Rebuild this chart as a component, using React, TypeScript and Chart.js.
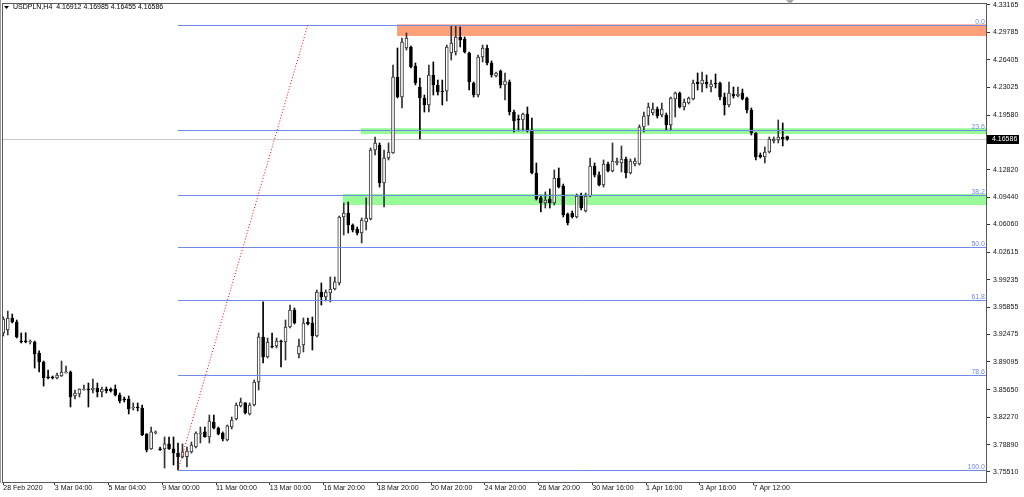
import React, { useEffect, useRef } from 'react';
import { Chart, registerables } from 'chart.js';

Chart.register(...registerables);

const titleText = 'USDPLN,H4  4.16912 4.16985 4.16455 4.16586';

const opens = [
  3.9267, 3.9304, 3.9452, 3.9403, 3.9168, 3.9166, 3.9156, 3.9156, 3.9020, 3.8909,
  3.8723, 3.8722, 3.8711, 3.8736, 3.8775, 3.8785, 3.8489, 3.8514, 3.8563, 3.8575,
  3.8563, 3.8588, 3.8538, 3.8575, 3.8573, 3.8575, 3.8501, 3.8452, 3.8452, 3.8341,
  3.8353, 3.8341, 3.8020, 3.7835, 3.8032, 3.7835, 3.7835, 3.7897, 3.7835, 3.7785,
  3.7736, 3.7740, 3.7798, 3.7859, 3.8020, 3.8045, 3.7983, 3.8168, 3.8094, 3.8032,
  3.7946, 3.8106, 3.8205, 3.8366, 3.8403, 3.8267, 3.8378, 3.8662, 3.9217, 3.8971,
  3.9106, 3.9106, 3.9168, 3.9156, 3.9341, 3.9551, 3.9008, 3.9119, 3.9403, 3.9390,
  3.9230, 3.9773, 3.9711, 3.9761, 3.9810, 3.9884, 4.0699, 4.0748, 4.0600, 4.0551,
  4.0501, 4.0637, 4.0674, 4.1526, 4.1588, 4.1119, 4.1427, 4.1489, 4.2427, 4.2180,
  4.2785, 4.2798, 4.2563, 4.2304, 4.2168, 4.2082, 4.2452, 4.2329, 4.2255, 4.2255,
  4.2724, 4.2736, 4.2921, 4.2897, 4.2724, 4.2353, 4.2205, 4.2674, 4.2785, 4.2600,
  4.2440, 4.2501, 4.2329, 4.2366, 4.1995, 4.1909, 4.1897, 4.1971, 4.1773, 4.1242,
  4.0934, 4.0872, 4.0921, 4.0872, 4.1180, 4.1082, 4.0736, 4.0748, 4.0699, 4.0958,
  4.0773, 4.0958, 4.1329, 4.1218, 4.1094, 4.1353, 4.1267, 4.1366, 4.1366, 4.1415,
  4.1242, 4.1353, 4.1353, 4.1810, 4.1946, 4.1983, 4.2032, 4.1958, 4.1958, 4.1835,
  4.2156, 4.2230, 4.2057, 4.2106, 4.2156, 4.2366, 4.2341, 4.2366, 4.2304, 4.2353,
  4.2353, 4.2180, 4.2082, 4.2218, 4.2193, 4.2230, 4.2168, 4.2020, 4.1736, 4.1464,
  4.1440, 4.1501, 4.1637, 4.1650, 4.1687, 4.16912,
];

const highs = [
  3.9464, 3.9538, 3.9501, 3.9427, 3.9267, 3.9270, 3.9180, 3.9168, 3.9045, 3.8921,
  3.8810, 3.8736, 3.8773, 3.8921, 3.8859, 3.8798, 3.8563, 3.8578, 3.8625, 3.8649,
  3.8699, 3.8649, 3.8600, 3.8600, 3.8588, 3.8625, 3.8526, 3.8477, 3.8489, 3.8403,
  3.8403, 3.8378, 3.8025, 3.8106, 3.8057, 3.7859, 3.7983, 3.7983, 3.7983, 3.7909,
  3.7897, 3.7859, 3.7921, 3.8045, 3.8106, 3.8106, 3.8254, 3.8254, 3.8106, 3.8045,
  3.8131, 3.8230, 3.8403, 3.8464, 3.8408, 3.8403, 3.8686, 3.9267, 3.9650, 3.9205,
  3.9267, 3.9205, 3.9180, 3.9427, 3.9612, 3.9575, 3.9193, 3.9452, 3.9452, 3.9464,
  3.9798, 3.9884, 3.9798, 3.9958, 3.9958, 4.0711, 4.0872, 4.0884, 4.0613, 4.0575,
  4.0687, 4.0934, 4.1551, 4.1687, 4.1613, 4.1526, 4.1613, 4.2576, 4.2785, 4.2909,
  4.2971, 4.2810, 4.2600, 4.2415, 4.2205, 4.2576, 4.2613, 4.2390, 4.2390, 4.2822,
  4.3057, 4.3057, 4.3045, 4.2921, 4.2736, 4.2366, 4.2699, 4.2822, 4.2822, 4.2625,
  4.2489, 4.2514, 4.2477, 4.2390, 4.2020, 4.1958, 4.1983, 4.2057, 4.1921, 4.1366,
  4.0971, 4.1008, 4.1045, 4.1279, 4.1304, 4.1106, 4.0748, 4.0773, 4.0983, 4.0995,
  4.0995, 4.1427, 4.1366, 4.1255, 4.1403, 4.1378, 4.1613, 4.1427, 4.1576, 4.1440,
  4.1415, 4.1427, 4.1835, 4.1995, 4.2106, 4.2106, 4.2057, 4.2106, 4.1983, 4.2180,
  4.2242, 4.2242, 4.2156, 4.2180, 4.2390, 4.2477, 4.2489, 4.2452, 4.2390, 4.2464,
  4.2366, 4.2230, 4.2366, 4.2304, 4.2304, 4.2279, 4.2180, 4.2045, 4.1740, 4.1489,
  4.1563, 4.1687, 4.1687, 4.1897, 4.1860, 4.16985,
];

const lows = [
  3.9230, 3.9242, 3.9390, 3.9205, 3.9143, 3.9145, 3.9131, 3.8834, 3.8785, 3.8612,
  3.8699, 3.8699, 3.8699, 3.8730, 3.8770, 3.8353, 3.8452, 3.8477, 3.8560, 3.8353,
  3.8526, 3.8477, 3.8477, 3.8526, 3.8538, 3.8489, 3.8403, 3.8415, 3.8267, 3.8316,
  3.8304, 3.8000, 3.7798, 3.7830, 3.8020, 3.7818, 3.7600, 3.7830, 3.7637, 3.7576,
  3.7723, 3.7612, 3.7785, 3.7847, 3.7909, 3.7980, 3.7909, 3.8082, 3.8008, 3.7934,
  3.7934, 3.8082, 3.8193, 3.8353, 3.8267, 3.8254, 3.8366, 3.8563, 3.8896, 3.8958,
  3.9082, 3.9082, 3.8847, 3.8933, 3.9329, 3.9378, 3.8958, 3.9032, 3.9366, 3.9057,
  3.9217, 3.9612, 3.9662, 3.9650, 3.9798, 3.9859, 4.0477, 4.0501, 4.0514, 4.0477,
  4.0378, 4.0538, 4.0662, 4.1464, 4.1069, 4.0822, 4.1403, 4.1485, 4.2168, 4.2045,
  4.2761, 4.2538, 4.2329, 4.1662, 4.1995, 4.1995, 4.2205, 4.2205, 4.2082, 4.2131,
  4.2637, 4.2699, 4.2798, 4.2724, 4.2267, 4.2180, 4.2180, 4.2613, 4.2576, 4.2427,
  4.2427, 4.2292, 4.2144, 4.1958, 4.1748, 4.1761, 4.1761, 4.1748, 4.1230, 4.0909,
  4.0761, 4.0810, 4.0810, 4.0847, 4.1057, 4.0699, 4.0600, 4.0687, 4.0687, 4.0785,
  4.0761, 4.0946, 4.1193, 4.1082, 4.1069, 4.1255, 4.1255, 4.1341, 4.1255, 4.1180,
  4.1230, 4.1329, 4.1341, 4.1748, 4.1835, 4.1958, 4.1921, 4.1934, 4.1773, 4.1773,
  4.1934, 4.2045, 4.2020, 4.2094, 4.2144, 4.2267, 4.2242, 4.2292, 4.2242, 4.2292,
  4.2144, 4.1958, 4.2057, 4.2168, 4.2180, 4.2144, 4.1983, 4.1711, 4.1403, 4.1427,
  4.1366, 4.1489, 4.1613, 4.1613, 4.1576, 4.16455,
];

const closes = [
  3.9440, 3.9452, 3.9403, 3.9217, 3.9156, 3.9158, 3.9166, 3.9008, 3.8909, 3.8711,
  3.8713, 3.8712, 3.8748, 3.8785, 3.8785, 3.8477, 3.8526, 3.8575, 3.8575, 3.8563,
  3.8588, 3.8538, 3.8575, 3.8551, 3.8553, 3.8501, 3.8427, 3.8440, 3.8329, 3.8353,
  3.8341, 3.8008, 3.7822, 3.8045, 3.8045, 3.7822, 3.7897, 3.7835, 3.7785, 3.7736,
  3.7798, 3.7810, 3.7884, 3.8032, 3.8032, 3.7983, 3.8180, 3.8094, 3.8020, 3.7958,
  3.8119, 3.8193, 3.8378, 3.8415, 3.8279, 3.8378, 3.8662, 3.9217, 3.8971, 3.9156,
  3.9094, 3.9168, 3.9156, 3.9341, 3.9551, 3.9390, 3.9106, 3.9390, 3.9378, 3.9230,
  3.9773, 3.9711, 3.9773, 3.9810, 3.9897, 4.0699, 4.0748, 4.0600, 4.0538, 4.0501,
  4.0662, 4.0687, 4.1526, 4.1613, 4.1119, 4.1427, 4.1501, 4.2427, 4.2180, 4.2860,
  4.2909, 4.2551, 4.2353, 4.2168, 4.2082, 4.2452, 4.2329, 4.2242, 4.2242, 4.2798,
  4.2847, 4.2921, 4.2884, 4.2736, 4.2366, 4.2205, 4.2674, 4.2785, 4.2600, 4.2452,
  4.2477, 4.2329, 4.2378, 4.1995, 4.1884, 4.1897, 4.1971, 4.1773, 4.1242, 4.0921,
  4.0872, 4.0909, 4.0872, 4.1180, 4.1069, 4.0724, 4.0625, 4.0699, 4.0958, 4.0810,
  4.0958, 4.1329, 4.1218, 4.1094, 4.1353, 4.1267, 4.1390, 4.1390, 4.1415, 4.1242,
  4.1390, 4.1390, 4.1810, 4.1946, 4.2057, 4.2032, 4.1946, 4.2032, 4.1835, 4.2168,
  4.2230, 4.2057, 4.2119, 4.2168, 4.2353, 4.2341, 4.2390, 4.2341, 4.2341, 4.2341,
  4.2180, 4.2082, 4.2230, 4.2193, 4.2218, 4.2156, 4.2020, 4.1736, 4.1440, 4.1440,
  4.1501, 4.1662, 4.1662, 4.1687, 4.1662, 4.16586,
];

const xLabelIndex = [0, 11.5, 23.5, 35.5, 47.5, 59.5, 71.5, 83.5, 95.5, 107.5, 119.5, 131.5, 143.5, 155.5, 167.5];
const xLabels = [
  '28 Feb 2020', '3 Mar 04:00', '5 Mar 04:00', '9 Mar 00:00', '11 Mar 00:00',
  '13 Mar 00:00', '16 Mar 20:00', '18 Mar 20:00', '20 Mar 20:00', '24 Mar 20:00',
  '26 Mar 20:00', '30 Mar 16:00', '1 Apr 16:00', '3 Apr 16:00', '7 Apr 12:00',
];

const yTickValues = [
  4.33165, 4.29785, 4.26405, 4.23025, 4.1958, 4.162, 4.1282, 4.0944, 4.0606,
  4.02615, 3.99235, 3.95855, 3.92475, 3.89095, 3.8565, 3.8227, 3.7889, 3.7551,
];

const fibLevels = [0, 23.6, 38.2, 50, 61.8, 78.6, 100];
const fibLabels = ['0.0', '23.6', '38.2', '50.0', '61.8', '78.6', '100.0'];
const fibLowIndex = 39;
const fibLowPrice = 3.7576;
const fibHighIndex = 68;
const fibHighPrice = 4.3074;

const zoneStartIndex = [87.9, 79.8, 75.8];
const zoneHigh = [4.3078, 4.1795, 4.0983];
const zoneLow = [4.2934, 4.1724, 4.0847];
const zoneColors = ['#ffa07a', '#98fb98', '#98fb98'];

const FONT = '"Liberation Sans", Arial, sans-serif';
const fibColor = '#6f8be6';

export default function App() {
  const ref = useRef<HTMLCanvasElement | null>(null);

  useEffect(() => {
    document.body.style.margin = '0';
    const canvas = ref.current;
    if (!canvas) return;
    const idx = opens.map((_, i) => i);
    const isBull = idx.map((i) => closes[i] >= opens[i]);
    const currentPrice = closes[closes.length - 1];

    const overlay = {
      id: 'mtOverlay',
      beforeDatasetsDraw(chart: any) {
        const { ctx, chartArea: a, scales } = chart;
        const x = scales.x;
        const y = scales.y;
        ctx.save();
        ctx.beginPath();
        ctx.rect(a.left, a.top, a.right - a.left, a.bottom - a.top);
        ctx.clip();
        zoneStartIndex.forEach((s, k) => {
          const x0 = x.getPixelForValue(s);
          const y0 = y.getPixelForValue(zoneHigh[k]);
          const y1 = y.getPixelForValue(zoneLow[k]);
          ctx.fillStyle = zoneColors[k];
          ctx.fillRect(x0, y0, a.right - x0, y1 - y0);
        });
        const cy = Math.round(y.getPixelForValue(currentPrice)) + 0.5;
        ctx.lineWidth = 1;
        ctx.strokeStyle = '#c8c8c8';
        ctx.beginPath();
        ctx.moveTo(a.left, cy);
        ctx.lineTo(a.right, cy);
        ctx.stroke();
        ctx.restore();
      },
      afterDatasetsDraw(chart: any) {
        const { ctx, chartArea: a, scales } = chart;
        const x = scales.x;
        const y = scales.y;
        ctx.save();
        ctx.beginPath();
        ctx.rect(a.left, a.top, a.right - a.left, a.bottom - a.top);
        ctx.clip();
        ctx.globalAlpha = 1;
        ctx.lineWidth = 1;
        ctx.setLineDash([]);
        const fx = Math.round(x.getPixelForValue(fibLowIndex));
        ctx.font = '7px ' + FONT;
        ctx.textAlign = 'right';
        ctx.textBaseline = 'bottom';
        for (let k = 0; k < fibLevels.length; k++) {
          const p = fibHighPrice - (fibLevels[k] / 100) * (fibHighPrice - fibLowPrice);
          const py = Math.round(y.getPixelForValue(p)) + 0.5;
          ctx.beginPath();
          ctx.moveTo(fx, py);
          ctx.lineTo(a.right, py);
          ctx.strokeStyle = fibColor;
          ctx.stroke();
          ctx.fillStyle = fibColor;
          ctx.fillText(fibLabels[k], a.right - 2, py);
        }
        ctx.strokeStyle = '#ff0000';
        ctx.setLineDash([1, 2]);
        ctx.beginPath();
        ctx.moveTo(x.getPixelForValue(fibLowIndex), y.getPixelForValue(fibLowPrice));
        ctx.lineTo(x.getPixelForValue(fibHighIndex), y.getPixelForValue(fibHighPrice));
        ctx.stroke();
        ctx.setLineDash([]);
        ctx.restore();
      },
      afterDraw(chart: any) {
        const { ctx, chartArea: a, scales } = chart;
        const y = scales.y;
        ctx.save();
        ctx.strokeStyle = '#5a5a5a';
        ctx.lineWidth = 1;
        ctx.strokeRect(a.left + 0.5, a.top + 0.5, a.right - a.left - 1, a.bottom - a.top);
        ctx.strokeStyle = '#9a9a9a';
        ctx.beginPath();
        ctx.moveTo(0.5, 0);
        ctx.lineTo(0.5, a.bottom + 1);
        ctx.stroke();
        // title
        ctx.fillStyle = '#000';
        ctx.beginPath();
        ctx.moveTo(a.left + 2, a.top + 3);
        ctx.lineTo(a.left + 7, a.top + 3);
        ctx.lineTo(a.left + 4.5, a.top + 6);
        ctx.closePath();
        ctx.fill();
        ctx.font = '7px ' + FONT;
        ctx.textAlign = 'left';
        ctx.textBaseline = 'middle';
        ctx.fillText(titleText, a.left + 11, a.top + 4.5);
        // current price box
        const cy = Math.round(y.getPixelForValue(currentPrice)) + 0.5;
        ctx.fillStyle = '#000';
        ctx.fillRect(a.right, cy - 4.5, 32, 9);
        ctx.fillStyle = '#fff';
        ctx.textBaseline = 'middle';
        ctx.fillText(currentPrice.toFixed(5), a.right + 5, cy);
        // chart shift marker
        ctx.fillStyle = '#a8a8a8';
        ctx.beginPath();
        ctx.moveTo(786, 0);
        ctx.lineTo(794, 0);
        ctx.lineTo(790, 4);
        ctx.closePath();
        ctx.fill();
        ctx.restore();
      },
    };

    const chart = new Chart(canvas, {
      type: 'bar',
      data: {
        datasets: [
          {
            label: 'wicks',
            data: idx.map((i) => ({ x: i, y: [lows[i], highs[i]] })) as any,
            backgroundColor: idx.map((i) => (isBull[i] ? '#333' : '#000')),
            barThickness: 1,
            grouped: false,
            order: 2,
            minBarLength: 1,
          } as any,
          {
            label: 'bodies',
            data: idx.map((i) => ({ x: i, y: [opens[i], closes[i]] })) as any,
            backgroundColor: idx.map((i) => (isBull[i] ? '#ffffff' : '#000000')),
            borderColor: idx.map((i) => (isBull[i] ? '#333' : '#000')),
            borderWidth: 1,
            borderSkipped: false,
            barThickness: 3,
            grouped: false,
            order: 1,
            minBarLength: 1,
          } as any,
        ],
      },
      options: {
        animation: false,
        responsive: false,
        devicePixelRatio: 1,
        events: [],
        layout: { padding: { left: 2, top: 3, right: 0, bottom: 0 } },
        plugins: { legend: { display: false }, tooltip: { enabled: false } },
        scales: {
          x: {
            type: 'linear',
            min: -0.29,
            max: 219.6,
            offset: false,
            position: 'bottom',
            border: { display: false },
            grid: { offset: false, drawOnChartArea: false, drawTicks: true, tickLength: 3, color: '#333' },
            ticks: {
              autoSkip: false,
              maxRotation: 0,
              minRotation: 0,
              align: 'start',
              padding: -1,
              color: '#111',
              font: { family: FONT, size: 7 },
              callback: (_v: any, i: number) => xLabels[i],
            },
            afterBuildTicks: (s: any) => {
              s.ticks = xLabelIndex.map((v) => ({ value: v }));
            },
            afterFit: (s: any) => {
              s.height = 15;
              s.paddingLeft = 0;
              s.paddingRight = 0;
            },
          },
          y: {
            type: 'linear',
            position: 'right',
            min: 3.7427,
            max: 4.3341,
            beginAtZero: false,
            border: { display: false },
            grid: { drawOnChartArea: false, drawTicks: true, tickLength: 3, color: '#333' },
            ticks: {
              padding: 3,
              color: '#111',
              font: { family: FONT, size: 7 },
              callback: (v: any) => Number(v).toFixed(5),
            },
            afterBuildTicks: (s: any) => {
              s.ticks = yTickValues.map((v) => ({ value: v }));
            },
            afterFit: (s: any) => {
              s.width = 37;
              s.paddingTop = 0;
              s.paddingBottom = 0;
            },
          },
        },
      } as any,
      plugins: [overlay],
    });
    return () => chart.destroy();
  }, []);

  return (
    <div style={{ width: 1024, height: 497, background: '#fff' }}>
      <canvas ref={ref} width={1024} height={497} style={{ display: 'block' }} />
    </div>
  );
}
